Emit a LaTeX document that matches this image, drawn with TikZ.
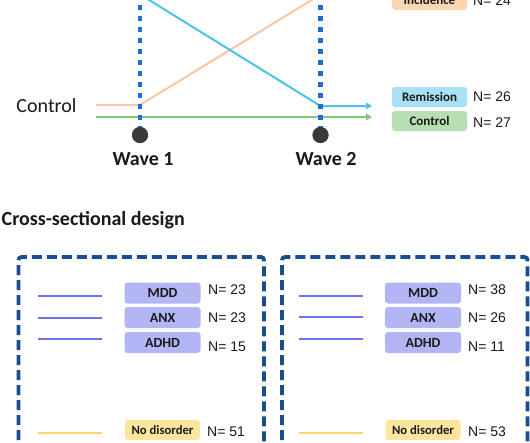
\documentclass[tikz,border=0pt]{standalone}
\usepackage{fontspec}
\setmainfont{Carlito}
\newfontfamily\arialf{Liberation Sans}
\usetikzlibrary{arrows.meta}
\definecolor{dotblue}{HTML}{1B6FD2}
\definecolor{navy}{HTML}{1A4E8E}
\definecolor{dotgray}{HTML}{3A3A3A}
\definecolor{orline}{HTML}{F9C6A3}
\definecolor{orfill}{HTML}{FAD6B2}
\definecolor{cyline}{HTML}{48C4EC}
\definecolor{cyfill}{HTML}{A8E1F5}
\definecolor{grline}{HTML}{7DCB7D}
\definecolor{grfill}{HTML}{B7DFB3}
\definecolor{puline}{HTML}{6E74EC}
\definecolor{pufill}{HTML}{B3B6F5}
\definecolor{yeline}{HTML}{F9D56A}
\definecolor{yefill}{HTML}{FDE59E}
\definecolor{txt}{HTML}{1A1A1A}
\begin{document}
\begin{tikzpicture}[x=1pt,y=-1pt,
  dotline/.style={draw=dotblue,line width=4.5pt,dash pattern=on 5pt off 6pt},
  dotc/.style={circle,fill=dotgray,minimum size=16pt,inner sep=0pt},
  wavelbl/.style={font=\fontsize{20}{24}\selectfont\bfseries,text=txt},
  biglbl/.style={font=\fontsize{20}{24}\selectfont,text=txt},
  flow/.style={line width=2pt},
  tipa/.style={-{Triangle[length=6pt,width=6.5pt]}},
  topbox/.style={rounded corners=3pt,minimum width=75pt,minimum height=20pt,inner sep=0pt,font=\fontsize{13}{15}\selectfont\bfseries,text=txt},
  nlbl/.style={anchor=west,inner sep=0pt,font=\arialf\fontsize{14}{16}\selectfont,text=txt},
  disbox/.style={rounded corners=3pt,fill=pufill,minimum width=76pt,minimum height=21pt,inner sep=0pt,font=\fontsize{14}{16}\selectfont\bfseries,text=txt},
  nobox/.style={rounded corners=3pt,fill=yefill,minimum width=75pt,minimum height=20pt,inner sep=0pt,font=\fontsize{12.7}{15}\selectfont\bfseries,text=txt},
  pline/.style={draw=puline,line width=2.2pt},
  yline/.style={draw=yeline,line width=2.2pt},
  dbox/.style={draw=navy,line width=3.8pt,dash pattern=on 10pt off 5pt,rounded corners=3pt}
]
\useasboundingbox (0,0) rectangle (530,442);
\clip (0,0) rectangle (530,442);
\fill[white] (0,0) rectangle (530,442);

% ---------- longitudinal part ----------
\node[dotc] (d1) at (140,135) {};
\node[dotc] (d2) at (320.5,135) {};
\coordinate (v1top) at (140,-6);
\coordinate (v2top) at (320.5,-6);

\coordinate (o0) at (96,105);
\coordinate (o1) at (140,105);
\coordinate (o2) at (328,-10);
\coordinate (c0) at (133,-10);
\coordinate (c1) at (320.5,106);
\coordinate (c2) at (372,106);
\coordinate (g0) at (96,117);
\coordinate (g1) at (372,117);

\draw[flow,draw=orline] (o0) -- (o1) -- (o2);
\draw[flow,draw=cyline,tipa] (c0) -- (c1) -- (c2);
\draw[flow,draw=grline,tipa] (g0) -- (g1);

\draw[dotline] (v1top) -- (d1.center);
\draw[dotline] (v2top) -- (d2.center);
\node[dotc] at (d1) {};
\node[dotc] at (d2) {};

\node[wavelbl] (w1) at (143,159) {Wave 1};
\node[wavelbl] (w2) at (326,159) {Wave 2};
\node[biglbl] (ctl) at (46.5,106) {Control};

\node[topbox,fill=orfill] (inc) at (429.5,0) {Incidence};
\node[topbox,fill=cyfill] (rem) at (429.5,97) {Remission};
\node[topbox,fill=grfill] (con) at (429.5,121) {Control};
\node[nlbl] (n24) at (473,1) {N= 24};
\node[nlbl] (n26) at (473,97) {N= 26};
\node[nlbl] (n27) at (473,123) {N= 27};

% ---------- cross-sectional part ----------
\node[wavelbl,anchor=west,inner sep=0pt] (title) at (1.5,220) {Cross-sectional design};

\draw[dbox] (18.5,470) -- (18.5,257) -- (264,257) -- (264,470);
\draw[dbox] (282,470) -- (282,257) -- (527.5,257) -- (527.5,470);

% left panel
\coordinate (la1) at (38,296);  \coordinate (lb1) at (102,296);
\coordinate (la2) at (38,318);  \coordinate (lb2) at (102,318);
\coordinate (la3) at (38,339);  \coordinate (lb3) at (102,339);
\coordinate (la4) at (38,433);  \coordinate (lb4) at (102,433);
\draw[pline] (la1) -- (lb1);
\draw[pline] (la2) -- (lb2);
\draw[pline] (la3) -- (lb3);
\draw[yline] (la4) -- (lb4);
\node[disbox] (lmdd) at (162.5,293) {MDD};
\node[disbox] (lanx) at (162.5,317.5) {ANX};
\node[disbox] (ladhd) at (162.5,342.5) {ADHD};
\node[nobox] (lno) at (162.5,430) {No disorder};
\node[nlbl] (ln1) at (208,290) {N= 23};
\node[nlbl] (ln2) at (208,318) {N= 23};
\node[nlbl] (ln3) at (208,346.5) {N= 15};
\node[nlbl] (ln4) at (207,432) {N= 51};

% right panel
\coordinate (ra1) at (299,296);  \coordinate (rb1) at (363,296);
\coordinate (ra2) at (299,317);  \coordinate (rb2) at (363,317);
\coordinate (ra3) at (299,339);  \coordinate (rb3) at (363,339);
\coordinate (ra4) at (299,433);  \coordinate (rb4) at (363,433);
\draw[pline] (ra1) -- (rb1);
\draw[pline] (ra2) -- (rb2);
\draw[pline] (ra3) -- (rb3);
\draw[yline] (ra4) -- (rb4);
\node[disbox] (rmdd) at (423,293) {MDD};
\node[disbox] (ranx) at (423,317.5) {ANX};
\node[disbox] (radhd) at (423,342.5) {ADHD};
\node[nobox] (rno) at (423,430) {No disorder};
\node[nlbl] (rn1) at (468,290) {N= 38};
\node[nlbl] (rn2) at (468,318) {N= 26};
\node[nlbl] (rn3) at (468,346.5) {N= 11};
\node[nlbl] (rn4) at (468,431.5) {N= 53};
\end{tikzpicture}
\end{document}
